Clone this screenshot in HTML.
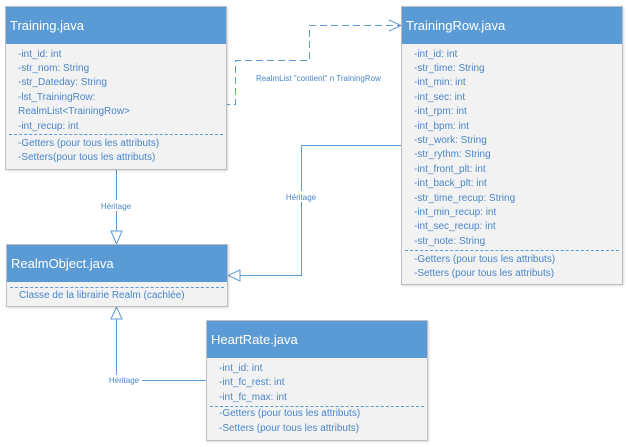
<!DOCTYPE html>
<html><head><style>
body{margin:0;width:628px;height:447px;background:#fff;position:relative;overflow:hidden;font-family:"Liberation Sans",sans-serif}
.box{position:absolute;background:#f2f2f2;border:1px solid #bfbfbf;box-shadow:1px 1px 2px rgba(0,0,0,.15)}
.hd{background:#5b9bd5;color:#fff;font-size:13px;height:37px;line-height:37px;padding-left:4px}
.ln{position:absolute;left:12px;font-size:10px;color:#4a86c8;white-space:nowrap;line-height:12px}
.sep{position:absolute;left:3px;right:3px;border-top:1px dashed #5b9bd5}
svg{position:absolute;left:0;top:0}
.lbl{font-size:8px;fill:#4a86c8;font-family:"Liberation Sans",sans-serif}
</style></head><body>
<svg width="628" height="447">
<g stroke="#5b9bd5" stroke-width="1" fill="none">
<path d="M116.5 169V243"/>
<path d="M111 231L116.5 244L122 231Z" fill="#fff"/>
<path d="M402 145.5H301.5V275.5H228"/>
<path d="M240 270L228 275.5L240 281Z" fill="#fff"/>
<path d="M207 380.5H116.5V307"/>
<path d="M111 319L116.5 307L122 319Z" fill="#fff"/>
<path d="M223 104.5H235.5V60.5H309.5V25.5H400" stroke-dasharray="7,4"/>
<path d="M389 20L401 25.5L389 31"/>
</g>
<rect x="96" y="200" width="42" height="11" fill="#fff"/>
<text class="lbl" x="116" y="209" text-anchor="middle">Héritage</text>
<rect x="282" y="191" width="40" height="11" fill="#fff"/>
<text class="lbl" x="301" y="200" text-anchor="middle">Héritage</text>
<rect x="106" y="375" width="36" height="11" fill="#fff"/>
<text class="lbl" x="124" y="383" text-anchor="middle">Héritage</text>
<text class="lbl" x="256" y="81">RealmList "contient" n TrainingRow</text>
</svg>

<div class="box" style="left:5px;top:6px;width:220px;height:162px">
<div class="hd">Training.java</div>
<div class="ln" style="top:42px">-int_id: int</div>
<div class="ln" style="top:56px">-str_nom: String</div>
<div class="ln" style="top:70px">-str_Dateday: String</div>
<div class="ln" style="top:85px">-lst_TrainingRow:</div>
<div class="ln" style="top:99px">RealmList&lt;TrainingRow&gt;</div>
<div class="ln" style="top:114px">-int_recup: int</div>
<div class="sep" style="top:127px"></div>
<div class="ln" style="top:131px">-Getters (pour tous les attributs)</div>
<div class="ln" style="top:145px">-Setters(pour tous les attributs)</div>
</div>

<div class="box" style="left:401px;top:6px;width:220px;height:277px">
<div class="hd">TrainingRow.java</div>
<div class="ln" style="top:42px">-int_id: int</div>
<div class="ln" style="top:56px">-str_time: String</div>
<div class="ln" style="top:70px">-int_min: int</div>
<div class="ln" style="top:85px">-int_sec: int</div>
<div class="ln" style="top:99px">-int_rpm: int</div>
<div class="ln" style="top:114px">-int_bpm: int</div>
<div class="ln" style="top:128px">-str_work: String</div>
<div class="ln" style="top:142px">-str_rythm: String</div>
<div class="ln" style="top:157px">-int_front_plt: int</div>
<div class="ln" style="top:171px">-int_back_plt: int</div>
<div class="ln" style="top:186px">-str_time_recup: String</div>
<div class="ln" style="top:200px">-int_min_recup: int</div>
<div class="ln" style="top:214px">-int_sec_recup: int</div>
<div class="ln" style="top:229px">-str_note: String</div>
<div class="sep" style="top:243px"></div>
<div class="ln" style="top:247px">-Getters (pour tous les attributs)</div>
<div class="ln" style="top:261px">-Setters (pour tous les attributs)</div>
</div>

<div class="box" style="left:6px;top:244px;width:220px;height:61px">
<div class="hd">RealmObject.java</div>
<div class="sep" style="top:42px"></div>
<div class="ln" style="top:45px">Classe de la librairie Realm (cachlée)</div>
</div>

<div class="box" style="left:206px;top:320px;width:220px;height:119px">
<div class="hd">HeartRate.java</div>
<div class="ln" style="top:42px">-int_id: int</div>
<div class="ln" style="top:56px">-int_fc_rest: int</div>
<div class="ln" style="top:71px">-int_fc_max: int</div>
<div class="sep" style="top:85px"></div>
<div class="ln" style="top:87px">-Getters (pour tous les attributs)</div>
<div class="ln" style="top:102px">-Setters (pour tous les attributs)</div>
</div>
</body></html>
